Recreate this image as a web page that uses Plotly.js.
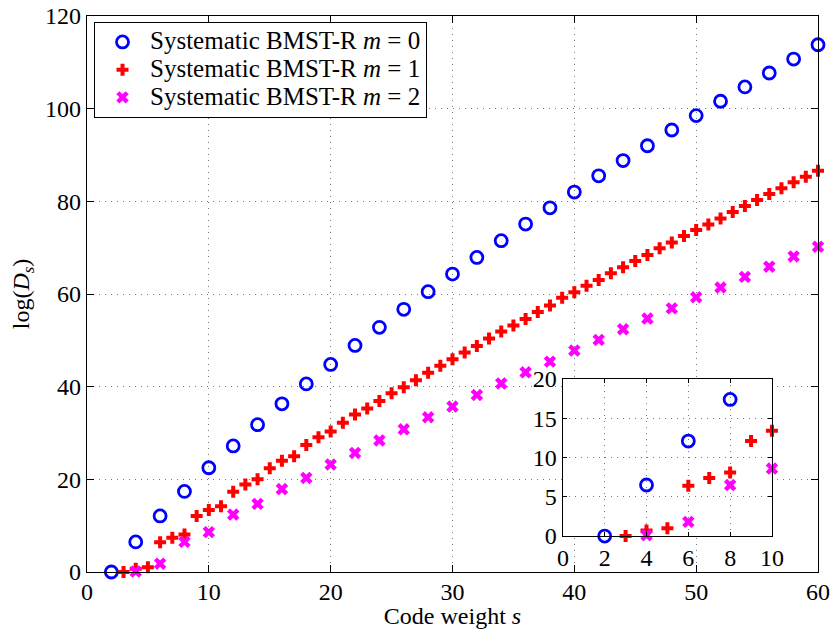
<!DOCTYPE html>
<html>
<head>
<meta charset="utf-8">
<script src="https://cdn.plot.ly/plotly-3.0.1.min.js"></script>
<style>html,body{margin:0;padding:0;background:#fff;}#chart{width:833px;height:629px;}</style>
</head>
<body>
<div id="chart"></div>
<script>
// Code weights
const sM0 = [2,4,6,8,10,12,14,16,18,20,22,24,26,28,30,32,34,36,38,40,42,44,46,48,50,52,54,56,58,60];
const yM0 = [0,6.5,12.1,17.4,22.5,27.2,31.8,36.3,40.6,44.8,48.9,52.8,56.7,60.5,64.3,67.9,71.5,75.1,78.6,82.0,85.5,88.8,92.0,95.4,98.5,101.6,104.7,107.7,110.7,113.8];

const sM1 = [3,4,5,6,7,8,9,10,11,12,13,14,15,16,17,18,19,20,21,22,23,24,25,26,27,28,29,30,31,32,33,34,35,36,37,38,39,40,41,42,43,44,45,46,47,48,49,50,51,52,53,54,55,56,57,58,59,60];
const yM1 = [0,0.7,1.0,6.4,7.4,8.1,12.1,13.4,14.2,17.3,18.9,20.0,22.4,24.0,25.0,27.4,29.1,30.3,32.2,34.0,35.3,36.9,38.6,39.9,41.4,43.0,44.5,45.9,47.4,48.8,50.4,51.9,53.2,54.6,56.1,57.5,59.2,60.4,61.8,63.0,64.5,65.8,67.1,68.4,69.9,71.1,72.5,73.8,75.0,76.3,77.7,79.0,80.3,81.6,82.8,84.1,85.3,86.6];

const sM2 = [4,6,8,10,12,14,16,18,20,22,24,26,28,30,32,34,36,38,40,42,44,46,48,50,52,54,56,58,60];
const yM2 = [0.1,1.8,6.5,8.6,12.4,14.7,17.9,20.3,23.2,25.7,28.4,30.8,33.4,35.7,38.2,40.7,43.1,45.4,47.8,50.1,52.4,54.7,56.9,59.3,61.4,63.7,65.9,68.1,70.2];

const labels = ['Systematic BMST-R <i>m</i> = 0','Systematic BMST-R <i>m</i> = 1','Systematic BMST-R <i>m</i> = 2'];
const xTicksMain = [0,10,20,30,40,50,60];
const yTicksMain = [0,20,40,60,80,100,120];
const xTicksInset = [0,2,4,6,8,10];
const yTicksInset = [0,5,10,15,20];
const insetMaxS = 10;

const FONT = "'Liberation Serif', 'Times New Roman', serif";
const styles = [
  {symbol:'circle-open', size:12, color:'#0000ff', line:{width:2.8, color:'#0000ff'}},
  {symbol:'cross', size:10, color:'#ff0000', line:{width:0}},
  {symbol:'x', size:11, color:'#ff00ff', line:{width:0}}
];
const series = [[sM0,yM0],[sM1,yM1],[sM2,yM2]];

const traces = [];
series.forEach((d,i)=>{
  traces.push({x:d[0], y:d[1], type:'scatter', mode:'markers',
    name:'<span style="font-size:25px">' + labels[i] + '</span>',
    marker:styles[i], cliponaxis:false, xaxis:'x', yaxis:'y', showlegend:true});
});
series.forEach((d,i)=>{
  const xs=[], ys=[];
  d[0].forEach((s,k)=>{ if(s<=insetMaxS){ xs.push(s); ys.push(d[1][k]); } });
  traces.push({x:xs, y:ys, type:'scatter', mode:'markers', name:labels[i],
    marker:styles[i], cliponaxis:false, xaxis:'x2', yaxis:'y2', showlegend:false});
});

const axCommon = {
  showline:true, linecolor:'#000', linewidth:1.3, mirror:'ticks',
  ticks:'inside', ticklen:7, tickwidth:1, tickcolor:'#000',
  showgrid:true, gridcolor:'#777', griddash:'1px,5px', gridwidth:1,
  zeroline:false, tickfont:{family:FONT, size:24, color:'#000'}
};

const layout = {
  width:833, height:629,
  margin:{l:87, r:15, t:16, b:57},
  paper_bgcolor:'#fff', plot_bgcolor:'#fff',
  font:{family:FONT, color:'#000'},
  showlegend:true,
  legend:{x:0.0096, y:0.989, xanchor:'left', yanchor:'top', bgcolor:'#fff',
    bordercolor:'#000', borderwidth:1, font:{family:FONT, size:19, color:'#000'},
    tracegroupgap:0, itemwidth:45},
  xaxis:Object.assign({}, axCommon, {range:[0,60], tickvals:xTicksMain, domain:[0,1], anchor:'y',
    ticklabelstandoff:-2,
    title:{text:'Code weight <i>s</i>', font:{family:FONT, size:24}, standoff:8}}),
  yaxis:Object.assign({}, axCommon, {range:[0,120], tickvals:yTicksMain, domain:[0,1], anchor:'x',
    title:{text:'log(<i>D</i><sub><i>s</i></sub>)', font:{family:FONT, size:24}, standoff:8}}),
  xaxis2:Object.assign({}, axCommon, {range:[0,10], tickvals:xTicksInset, domain:[0.651,0.937], anchor:'y2', ticklen:4}),
  yaxis2:Object.assign({}, axCommon, {range:[0,20], tickvals:yTicksInset, domain:[0.0647,0.347], anchor:'x2', ticklen:4})
};

Plotly.newPlot('chart', traces, layout, {displayModeBar:false, staticPlot:true});
</script>
</body>
</html>
